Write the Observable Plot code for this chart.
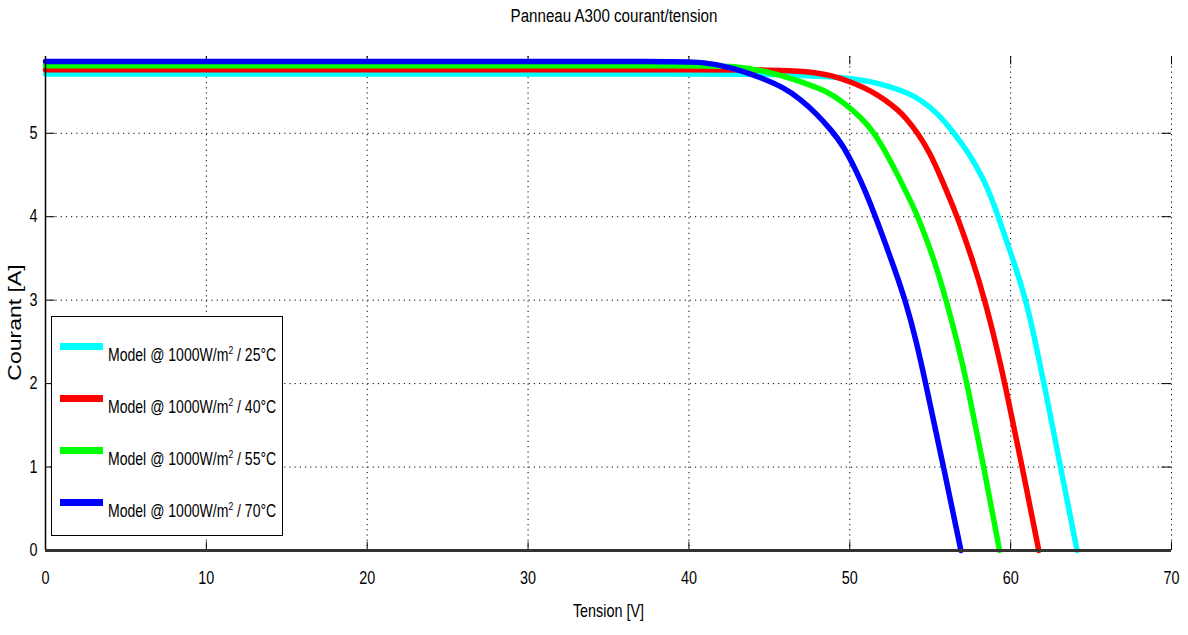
<!DOCTYPE html>
<html>
<head>
<meta charset="utf-8">
<script src="https://cdn.jsdelivr.net/npm/d3@7"></script>
<script src="https://cdn.jsdelivr.net/npm/@observablehq/plot@0.6"></script>
<style>
  html, body { margin: 0; padding: 0; background: white; }
  #wrap { position: relative; width: 1188px; height: 635px; overflow: hidden;
          font-family: "Liberation Sans", Arial, sans-serif; }
  #title { position: absolute; top: 6px; left: 614px; transform: translateX(-50%) scaleX(0.84);
           font-size: 18px; white-space: nowrap; color: #000; }
  #legend { position: absolute; left: 51px; top: 316px; width: 232px; height: 220px;
            border: 1px solid #000; background: #fff; box-sizing: border-box; }
  .row { position: absolute; left: 8px; height: 20px; white-space: nowrap; font-size: 18px; }
  .sw { position: absolute; left: 0; top: 0; width: 43px; height: 7px; }
  .lab { position: absolute; left: 48px; top: 1px; transform: scaleX(0.78); transform-origin: 0 0; }
  sup { font-size: 11px; }
</style>
</head>
<body>
<div id="wrap">
  <div id="title">Panneau A300 courant/tension</div>
  <div id="chart"></div>
  <div id="legend"></div>
</div>
<script>
// Tick values
const xTicks = [0, 10, 20, 30, 40, 50, 60, 70];
const yTicks = [0, 1, 2, 3, 4, 5];

// Series labels and colours (legend order)
const seriesTemps = ["25°C", "40°C", "55°C", "70°C"];
const seriesColors = ["#00ffff", "#ff0000", "#00ff00", "#0000ff"];

// 25°C (cyan): tension [V], courant [A]
const v25 = [0, 10, 20, 30, 40, 44, 46.5, 48.5, 50.0, 51.3, 52.3, 53.55, 54.4, 55.42, 56.45, 57.38, 58.32, 58.84, 59.25, 59.85, 60.42, 60.95, 61.42, 62.08, 63.1, 64.13];
const i25 = [5.71, 5.71, 5.71, 5.71, 5.71, 5.71, 5.70, 5.68, 5.66, 5.62, 5.57, 5.49, 5.40, 5.25, 5.01, 4.77, 4.45, 4.21, 3.99, 3.65, 3.33, 2.99, 2.61, 2.0, 1.0, 0];
// 40°C (red)
const v40 = [0, 10, 20, 30, 40, 45.5, 47.3, 48.8, 50.3, 51.4, 52.2, 53.0, 53.5, 54.2, 55.0, 55.6, 56.7, 57.6, 58.4, 59.05, 59.65, 60.72, 61.75];
const i40 = [5.76, 5.76, 5.76, 5.76, 5.76, 5.76, 5.74, 5.70, 5.60, 5.50, 5.40, 5.28, 5.18, 5.01, 4.76, 4.50, 4.00, 3.50, 3.00, 2.50, 2.00, 1.0, 0];
// 55°C (green)
const v55 = [0, 10, 20, 30, 40, 43.0, 44.85, 46.3, 47.5, 48.6, 49.61, 50.7, 51.55, 52.3, 52.98, 53.62, 54.25, 55.22, 56.0, 56.68, 57.3, 58.33, 59.31];
const i55 = [5.81, 5.81, 5.81, 5.81, 5.81, 5.81, 5.74, 5.66, 5.58, 5.50, 5.37, 5.19, 5.00, 4.75, 4.50, 4.25, 4.00, 3.50, 3.00, 2.50, 2.00, 1.0, 0];
// 70°C (blue)
const v70 = [0, 10, 20, 30, 38, 41.0, 42.8, 44.44, 45.89, 46.92, 47.96, 48.79, 49.61, 50.4, 50.98, 51.6, 52.27, 52.86, 53.45, 54.15, 54.72, 55.83, 56.91];
const i70 = [5.86, 5.86, 5.86, 5.86, 5.86, 5.86, 5.78, 5.67, 5.55, 5.41, 5.23, 5.05, 4.85, 4.55, 4.30, 4.00, 3.65, 3.33, 3.00, 2.50, 2.00, 1.0, 0];

const seriesV = [v25, v40, v55, v70];
const seriesI = [i25, i40, i55, i70];

const table = [];
seriesV.forEach((vs, k) => vs.forEach((v, j) => table.push({series: seriesTemps[k], V: v, I: seriesI[k][j]})));

const dotted = {stroke: "#000", strokeOpacity: 1, strokeWidth: 1, strokeDasharray: "1.2,4"};

const chart = Plot.plot({
  width: 1188, height: 635,
  marginLeft: 45, marginRight: 17, marginTop: 56, marginBottom: 85,
  x: {domain: [0, 70]},
  y: {domain: [0, 5.92]},
  color: {domain: seriesTemps, range: seriesColors},
  style: {fontFamily: '"Liberation Sans", Arial, sans-serif', fontSize: "18px", background: "white", color: "black"},
  marks: [
    Plot.gridX(xTicks.filter(d => d > 0), dotted),
    Plot.gridY(yTicks.filter(d => d > 0), dotted),
    // inward ticks
    Plot.ruleX(xTicks, {y1: 0, y2: 0.1, stroke: "#000"}),
    Plot.ruleX(xTicks, {y1: 5.82, y2: 5.92, stroke: "#000"}),
    Plot.ruleY(yTicks, {x1: 0, x2: 0.6, stroke: "#000"}),
    Plot.ruleY(yTicks, {x1: 69.4, x2: 70, stroke: "#000"}),
    Plot.line(table, {x: "V", y: "I", z: "series", stroke: "series", strokeWidth: 5.5, curve: "basis"}),
    Plot.ruleX([0], {stroke: "#000", strokeWidth: 1.5}),
    Plot.ruleY([0], {stroke: "#333", strokeWidth: 3}),
    Plot.axisX(xTicks, {tickSize: 0, tickPadding: 21, tickFormat: d => String(d),
      label: "Tension [V]", labelAnchor: "center", labelOffset: 66, labelArrow: "none"}),
    Plot.axisY(yTicks, {tickSize: 0, tickPadding: 8, tickFormat: d => String(d),
      label: "Courant [A]", labelAnchor: "center", labelOffset: 38, labelArrow: "none"})
  ]
});
// condensed look of the original's text (horizontal squeeze of the whole picture)
d3.select(chart).selectAll("text").each(function() {
  const t = this.getAttribute("transform");
  if (!t || !t.includes("translate")) return;
  if (t.includes("rotate")) {
    const t2 = t.replace(/translate\(\s*([-\d.]+)\s*,\s*([-\d.]+)\s*\)/, (m, a) => `translate(${a},322)`);
    this.setAttribute("transform", t2 + " scale(1,0.8)");
    this.style.fontSize = "23px";
  } else {
    this.setAttribute("transform", t + " scale(0.8,1)");
  }
});
document.getElementById("chart").appendChild(chart);

// legend
const leg = document.getElementById("legend");
const rowTops = [26, 78, 130, 182];
seriesTemps.forEach((t, k) => {
  const r = document.createElement("div");
  r.className = "row";
  r.style.top = rowTops[k] + "px";
  r.innerHTML = `<div class="sw" style="background:${seriesColors[k]}"></div><div class="lab">Model @ 1000W/m<sup>2</sup> / ${t}</div>`;
  leg.appendChild(r);
});
</script>
</body>
</html>
